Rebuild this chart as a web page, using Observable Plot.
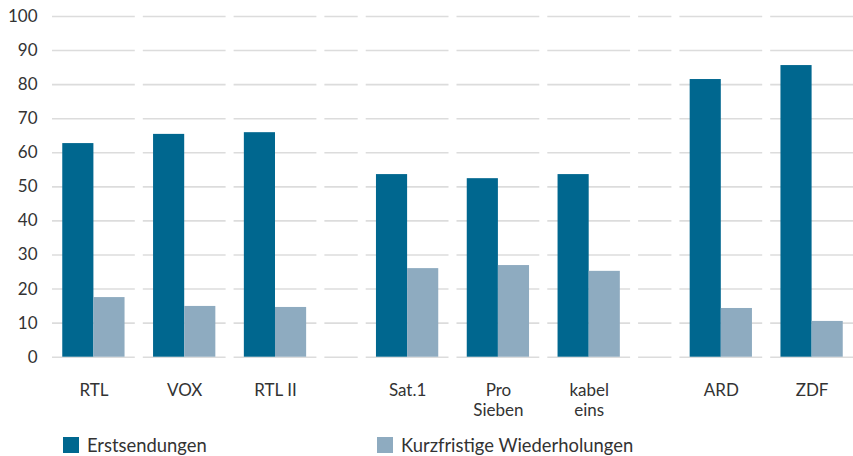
<!DOCTYPE html>
<html>
<head>
<meta charset="utf-8">
<script src="https://cdn.jsdelivr.net/npm/d3@7"></script>
<script src="https://cdn.jsdelivr.net/npm/@observablehq/plot@0.6"></script>
<style>
  html, body { margin: 0; padding: 0; background: #fff; }
  body { width: 853px; height: 456px; overflow: hidden; font-family: Lato, "Open Sans", sans-serif; color: #333; }
  #chart svg { display: block; }
  #legend { position: relative; height: 28px; font-size: 18.4px; line-height: 16px; }
  .item { position: absolute; top: 9px; height: 16px; display: flex; align-items: center; white-space: nowrap; }
  .sw { width: 16px; height: 16px; margin-right: 8px; flex: none; }
</style>
</head>
<body>
<div id="chart"></div>
<div id="legend"></div>
<script>
// ---- data ----
const categories = ["RTL", "VOX", "RTL II", "Sat.1", "Pro\nSieben", "kabel\neins", "ARD", "ZDF"];
const groups = [0, 0, 0, 1, 1, 1, 2, 2];
const erstsendungen = [62.7, 65.4, 65.9, 53.6, 52.4, 53.6, 81.5, 85.6];
const wiederholungen = [17.5, 14.9, 14.6, 26.0, 26.9, 25.2, 14.3, 10.5];
const seriesNames = ["Erstsendungen", "Kurzfristige Wiederholungen"];
const yTicks = [0, 10, 20, 30, 40, 50, 60, 70, 80, 90, 100];

// ---- layout helpers (in x-scale units: one category = 1 unit) ----
const colors = ["#00678f", "#8eabc0"];
const groupGap = 0.455;   // width of the empty slot between groups
const inset = 0.044;      // half gap between gridline segments
const barW = 0.343;
const center = categories.map((c, i) => i + groups[i] * groupGap);

const bars = [];
categories.forEach((c, i) => {
  bars.push({cat: c, series: seriesNames[0], x1: center[i] - barW, x2: center[i], v: erstsendungen[i]});
  bars.push({cat: c, series: seriesNames[1], x1: center[i], x2: center[i] + barW, v: wiederholungen[i]});
});

// gridline slots: each category band plus the empty slots between groups
const slots = [];
categories.forEach((c, i) => {
  slots.push({a: center[i] - 0.5, b: center[i] + 0.5});
  if (i < categories.length - 1 && groups[i + 1] !== groups[i]) {
    slots.push({a: center[i] + 0.5, b: center[i] + 0.5 + groupGap});
  }
});
const grid = [];
yTicks.forEach(t => slots.forEach(s => grid.push({y: t, x1: s.a + inset, x2: s.b - inset})));

const xMin = center[0] - 0.5 + inset;
const xMax = center[center.length - 1] + 0.5 - inset;

const plot = Plot.plot({
  width: 853,
  height: 428,
  marginLeft: 52,
  marginRight: 0,
  marginTop: 16,
  marginBottom: 71.3,
  style: {fontFamily: "Lato, 'Open Sans', sans-serif", fontSize: "17px", color: "#333", background: "#fff"},
  x: {type: "linear", domain: [xMin, xMax], axis: null},
  y: {domain: [0, 100], axis: null},
  marks: [
    Plot.ruleY(grid, {y: "y", x1: "x1", x2: "x2", stroke: "#dcdcdc", strokeWidth: 1.6}),
    Plot.rect(bars, {x1: "x1", x2: "x2", y1: 0, y2: "v", fill: d => d.series === seriesNames[0] ? colors[0] : colors[1]}),
    Plot.axisY(yTicks, {anchor: "left", tickSize: 0, tickPadding: 15, fontSize: 17, fill: "#333", label: null}),
    Plot.text(categories.map((c, i) => ({c, x: center[i]})), {
      x: "x", text: "c", frameAnchor: "bottom", lineAnchor: "top", dy: 24, lineHeight: 1.2,
      fontSize: 17, fill: "#333"
    })
  ]
});
document.getElementById("chart").appendChild(plot);

// legend
const legend = document.getElementById("legend");
const legendX = [63, 377];
seriesNames.forEach((name, i) => {
  const item = document.createElement("div");
  item.className = "item";
  item.style.left = legendX[i] + "px";
  const sw = document.createElement("span");
  sw.className = "sw";
  sw.style.background = colors[i];
  const tx = document.createElement("span");
  tx.textContent = name;
  item.appendChild(sw);
  item.appendChild(tx);
  legend.appendChild(item);
});
</script>
</body>
</html>
